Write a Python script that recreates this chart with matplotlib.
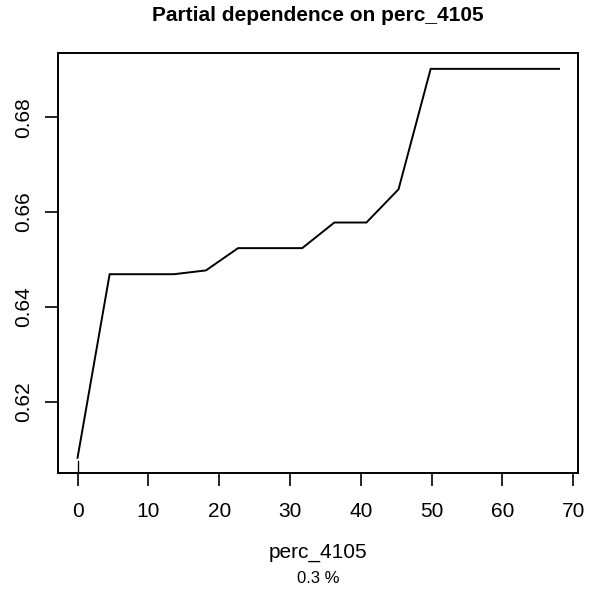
from matplotlib import pyplot as plt

# partial dependence values
perc_4105 = [0, 4.53, 9.07, 13.6, 18.13, 22.67, 27.2, 31.73,
             36.27, 40.8, 45.33, 49.87, 54.4, 58.93, 63.47, 68]
pdep = [0.6082, 0.6469, 0.6469, 0.6469, 0.6477, 0.6524, 0.6524, 0.6524,
        0.6578, 0.6578, 0.6648, 0.6902, 0.6902, 0.6902, 0.6902, 0.6902]
rug_x = [0, 0, 0, 0, 0, 0, 0, 0, 0]   # deciles of the data
xticks = [0, 10, 20, 30, 40, 50, 60, 70]
yticks = [0.62, 0.64, 0.66, 0.68]

plt.rcParams['font.family'] = ['Liberation Sans', 'DejaVu Sans']

fig = plt.figure(figsize=(5.99, 5.93), dpi=100)
ax = fig.add_axes([58.3/599, 1-473.3/593, 520/599, 420/593])

ax.plot(perc_4105, pdep, color='black', lw=1.4, solid_joinstyle='miter')

# rug along bottom
for r in rug_x:
    ax.plot([r, r], [0, 0.03], color='black', lw=0.75,
            transform=ax.get_xaxis_transform(), clip_on=False)

# R style 4% padding
xr = max(perc_4105) - min(perc_4105)
yr = max(pdep) - min(pdep)
ax.set_xlim(min(perc_4105) - 0.04*xr, max(perc_4105) + 0.04*xr)
ax.set_ylim(min(pdep) - 0.04*yr, max(pdep) + 0.04*yr)

ax.set_xticks(xticks)
ax.set_xticklabels([str(t) for t in xticks])
ax.set_yticks(yticks)
ax.set_yticklabels(['%.2f' % t for t in yticks], rotation=90, va='center')

ax.tick_params(axis='both', length=9.4, width=1.2, labelsize=15, direction='out')
ax.tick_params(axis='x', pad=11)
ax.tick_params(axis='y', pad=9)
for s in ax.spines.values():
    s.set_linewidth(1.4)

# R draws the x axis ticks past the box
for lbl in ax.get_xticklabels() + ax.get_xticklines():
    lbl.set_clip_on(False)

cx = (58.3 + 578.3) / 2 / 599
fig.text(cx, 1-21/593, 'Partial dependence on perc_4105', ha='center',
         va='baseline', fontsize=15, fontweight='bold')
fig.text(cx, 1-558/593, 'perc_4105', ha='center', va='baseline', fontsize=15)
fig.text(cx, 1-583/593, '0.3 %', ha='center', va='baseline', fontsize=12)

fig.savefig('out.png', dpi=100, facecolor='white')
